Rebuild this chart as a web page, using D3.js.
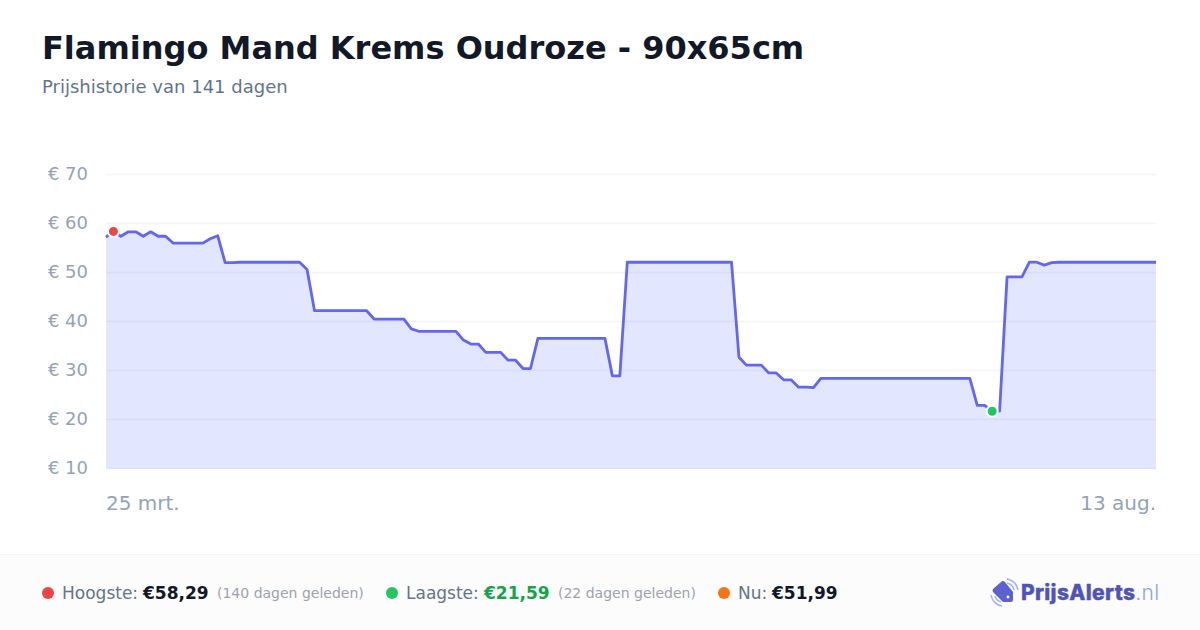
<!DOCTYPE html>
<html><head><meta charset="utf-8">
<script src="https://cdn.jsdelivr.net/npm/d3@7/dist/d3.min.js"></script>
<style>html,body{margin:0;padding:0;background:#fff}svg{display:block;font-family:"DejaVu Sans",sans-serif}</style>
</head><body><svg id="c" width="1200" height="630"></svg>
<script>
const titleText = "Flamingo Mand Krems Oudroze - 90x65cm";
const subtitleText = "Prijshistorie van 141 dagen";
const yTicks = [10,20,30,40,50,60,70];
const xTickLabels = ["25 mrt.","13 aug."];
const prices = [
57.1,58.29,57.3,58.2,58.2,57.3,58.2,57.3,57.3,55.9,
55.9,55.9,55.9,55.9,56.8,57.4,51.9,51.9,51.99,51.99,
51.99,51.99,51.99,51.99,51.99,51.99,51.99,50.5,42.1,42.1,
42.1,42.1,42.1,42.1,42.1,42.1,40.4,40.4,40.4,40.4,
40.4,38.4,37.9,37.9,37.9,37.9,37.9,37.9,36.1,35.3,
35.3,33.6,33.6,33.6,32,32,30.3,30.3,36.47,36.47,
36.47,36.47,36.47,36.47,36.47,36.47,36.47,36.47,28.8,28.8,
51.99,51.99,51.99,51.99,51.99,51.99,51.99,51.99,51.99,51.99,
51.99,51.99,51.99,51.99,51.99,32.6,31,31,31,29.4,
29.4,28,28,26.5,26.5,26.4,28.3,28.3,28.3,28.3,
28.3,28.3,28.3,28.3,28.3,28.3,28.3,28.3,28.3,28.3,
28.3,28.3,28.3,28.3,28.3,28.3,28.3,22.8,22.8,21.59,
21.59,49,49,49,52,52,51.4,51.9,51.99,51.99,
51.99,51.99,51.99,51.99,51.99,51.99,51.99,51.99,51.99,51.99,
51.99,51.99];
const highIndex = 1, lowIndex = 119;
const statsHigh = ["Hoogste: ","€58,29","(140 dagen geleden)"];
const statsLow = ["Laagste: ","€21,59","(22 dagen geleden)"];
const statsNow = ["Nu: ","€51,99"];

const svg = d3.select("#c");
const x = d3.scaleLinear().domain([0,prices.length-1]).range([106,1156]);
const y = d3.scaleLinear().domain([10,70]).range([468,174]);

svg.append("text").attr("x",42).attr("y",59).attr("font-size",32).attr("font-weight",700).attr("fill","#111827").text(titleText);
svg.append("text").attr("x",42).attr("y",93).attr("font-size",18).attr("fill","#64748b").text(subtitleText);

const yAxis = svg.append("g").attr("transform","translate(106,0)")
  .call(d3.axisLeft(y).tickValues(yTicks).tickSize(-1050).tickPadding(18).tickFormat(d=>"€ "+d));
yAxis.select(".domain").remove();
yAxis.selectAll("line").attr("stroke","#f3f4f6").attr("stroke-width",1.6);
yAxis.selectAll("text").attr("font-size",18).attr("font-family","DejaVu Sans").attr("fill","#94a3b8");

const xAxis = svg.append("g").attr("transform","translate(0,468)")
  .call(d3.axisBottom(x).tickValues([0,prices.length-1]).tickSize(0).tickSizeOuter(0).tickPadding(28).tickFormat((d,i)=>xTickLabels[i]));
xAxis.select(".domain").attr("stroke","#dfe1ee").attr("stroke-width",1);
xAxis.selectAll("text").attr("font-size",20).attr("font-family","DejaVu Sans").attr("fill","#94a3b8")
  .attr("dx",-0.5).attr("text-anchor",(d,i)=>i?"end":"start");

svg.append("path").datum(prices)
  .attr("d",d3.area().x((d,i)=>x(i)).y0(y(10)).y1(d=>y(d)))
  .attr("fill","#6478ff").attr("fill-opacity",0.19);
svg.append("path").datum(prices)
  .attr("d",d3.line().x((d,i)=>x(i)).y(d=>y(d)))
  .attr("fill","none").attr("stroke","#6366f1").attr("stroke-width",2.8).attr("stroke-linejoin","round");

[[highIndex,"#ef4444"],[lowIndex,"#22c55e"]].forEach(([i,c])=>{
  svg.append("circle").attr("cx",x(i)).attr("cy",y(prices[i])).attr("r",5.5).attr("fill",c).attr("stroke","#fff").attr("stroke-width",2);
});

svg.append("rect").attr("x",0).attr("y",554).attr("width",1200).attr("height",76).attr("fill","#fcfcfc");
svg.append("rect").attr("x",0).attr("y",554).attr("width",1200).attr("height",1).attr("fill","#f3f4f6");

function stat(dotX,color,textX,parts,valX,valColor,noteX){
  svg.append("circle").attr("cx",dotX).attr("cy",593).attr("r",6).attr("fill",color);
  svg.append("text").attr("x",textX).attr("y",599).attr("font-size",17).attr("fill","#64748b").text(parts[0]);
  svg.append("text").attr("x",valX).attr("y",599).attr("font-size",17).attr("font-weight",700).attr("fill",valColor).text(parts[1]);
  if(parts[2]) svg.append("text").attr("x",noteX).attr("y",598).attr("font-size",14).attr("fill","#9ca3af").text(parts[2]);
}
stat(48,"#ef4444",62,statsHigh,143,"#111827",217);
stat(392,"#22c55e",406,statsLow,484,"#16a34a",558);
stat(724,"#f97316",738,statsNow,772,"#111827",0);

const logo = svg.append("g");
logo.append("path").attr("d","M1005 582 L1013 592 L1013 600 Q1013 602 1011 602 L1003 602 L993 592 Q992 590 993 589 L1001 582 Q1003 580 1005 582 Z").attr("fill","#5b62cf");
logo.append("circle").attr("cx",1008).attr("cy",597).attr("r",1.4).attr("fill","#fff");
logo.append("path").attr("d","M1007 579 A13 13 0 0 1 1018 590 M1007 583 A9 9 0 0 1 1014 590").attr("fill","none").attr("stroke","#a5b4fc").attr("stroke-width",1.6);
logo.append("path").attr("d","M991 595 A13 13 0 0 0 1002 606 M995 596 A9 9 0 0 0 1001 602").attr("fill","none").attr("stroke","#a5b4fc").attr("stroke-width",1.6);
const lt = logo.append("text").attr("x",1021).attr("y",600).attr("font-family","Inter").attr("font-size",21).attr("letter-spacing",0.35);
lt.append("tspan").attr("font-weight",800).attr("fill","#4f54b8").attr("stroke","#4f54b8").attr("stroke-width",0.4).text("PrijsAlerts");
lt.append("tspan").attr("font-weight",300).attr("fill","#8ba3f0").text(".nl");
</script></body></html>
